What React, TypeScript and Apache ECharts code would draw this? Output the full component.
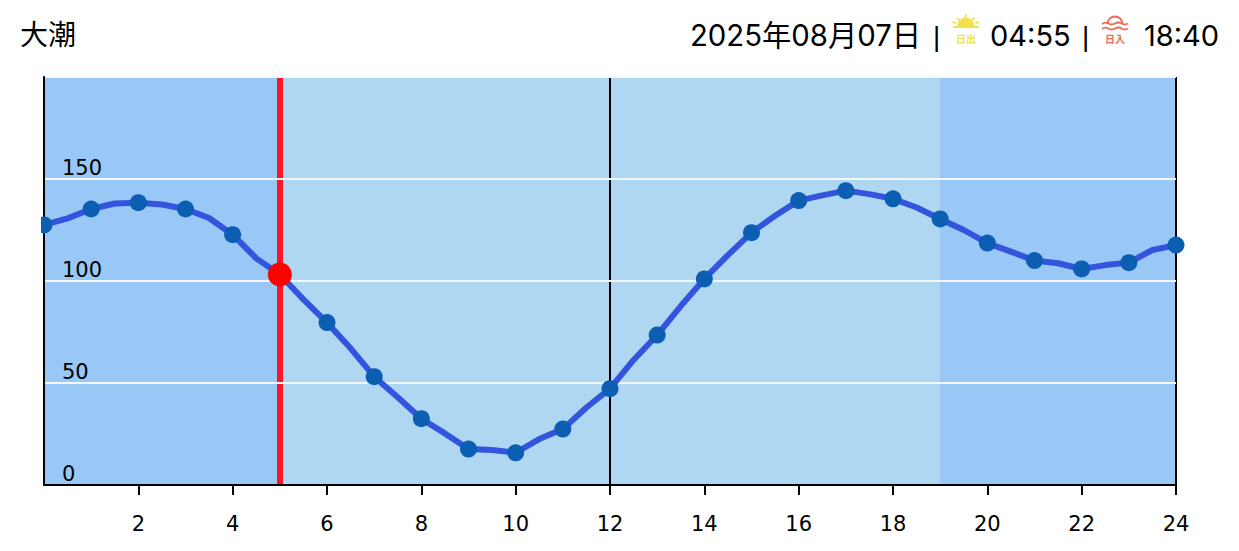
import React, { useEffect, useRef } from "react";
import * as echarts from "echarts";

const hours = [0,0.5,1,1.5,2,2.5,3,3.5,4,4.5,5,5.5,6,6.5,7,7.5,8,8.5,9,9.5,10,10.5,11,11.5,12,12.5,13,13.5,14,14.5,15,15.5,16,16.5,17,17.5,18,18.5,19,19.5,20,20.5,21,21.5,22,22.5,23,23.5,24];
const tide = [127.5,130.7,135.3,138,138.4,137.5,135.3,130.9,122.7,111.1,103.2,91,79.6,67,53.1,43,32.5,25.3,17.6,17.2,15.8,22.5,27.4,38,47.2,61.3,73.5,87.7,101,112.7,123.7,132,139.4,142,144.3,142.6,140.3,136,130.4,125,118.6,114.4,110,108.7,105.9,107.8,109,115.2,117.6];
const xTicks = [2,4,6,8,10,12,14,16,18,20,22,24];
const yTicks = [0,50,100,150];
const gridValues = [50,100,150,200];
const nightBands = [[0,5],[18.98,24]];
const dayBands = [[5,18.98]];
const nowPoint = [5,103.2];
const noonLines = [12,24];
const titleLeft = "大潮";
const dateText = "2025年08月07日";
const sep = "|";
const sunriseText = "04:55";
const sunsetText = "18:40";
const sunriseLabel = "日出";
const sunsetLabel = "日入";

const latin = "Inter,'Noto Sans CJK JP',sans-serif";
const sepFont = "'Liberation Sans',sans-serif";
const cjk = "'Noto Sans CJK JP',sans-serif";
const tick = "'DejaVu Sans',sans-serif";
const YEL = "#f3e04c";
const COR = "#ee6b55";

echarts.graphic.registerShape("wave", echarts.graphic.extendPath("M0,2 Q3.5,-0.5 6.5,1.5 T13,1.5 T19.5,1.5 T26,1.5", {}));

export default function App() {
  const ref = useRef<HTMLDivElement>(null);
  useEffect(() => {
    const chart = echarts.init(ref.current!, null, { renderer: "svg" });
    const line = (x1:number,y1:number,x2:number,y2:number,stroke:string,lineWidth=2) => ({ type:"line", z:20, shape:{x1,y1,x2,y2}, style:{stroke,lineWidth,lineCap:"round"} });
    const text = (x:number,y:number,t:string,size:number,font:string,fill="#000",align="left",weight="normal") => ({ type:"text", z:20, x, y, style:{ text:t, fontSize:size, fontFamily:font, fontWeight:weight, fill, align, verticalAlign:"middle" } });
    chart.setOption({
      animation: false,
      grid: { left: 44, right: 63, top: 77, bottom: 66 },
      xAxis: {
        type: "value", min: 0, max: 24, interval: 2, z: 2,
        axisLine: { show: true, lineStyle: { color: "#000", width: 2 } },
        axisTick: { show: true, length: 10, lineStyle: { color: "#000", width: 2 }, customValues: xTicks },
        axisLabel: { color: "#000", fontSize: 21, fontFamily: tick, margin: 28, customValues: xTicks },
        splitLine: { show: false },
      },
      yAxis: {
        type: "value", min: 0, max: 200, interval: 50, z: 2,
        axisLine: { show: true, onZero: false, lineStyle: { color: "#000", width: 2 } },
        axisTick: { show: false },
        axisLabel: { inside: true, color: "#000", fontSize: 21, fontFamily: tick, margin: 18, verticalAlign: "bottom", lineHeight: 22, customValues: yTicks },
        splitLine: { show: false },
      },
      series: [
        {
          type: "line", data: [], z: 1, silent: true,
          markArea: {
            silent: true, z: 1,
            data: [
              ...nightBands.map(([a,b]) => [{ xAxis:a, itemStyle:{ color:"#99c8f7" } }, { xAxis:b }]),
              ...dayBands.map(([a,b]) => [{ xAxis:a, itemStyle:{ color:"#b0d7f1" } }, { xAxis:b }]),
            ],
          },
        },
        {
          type: "line", data: [], z: 1, silent: true,
          markLine: {
            silent: true, z: 1, symbol: "none", label: { show: false },
            data: [
              ...noonLines.map((v) => ({ xAxis: v, lineStyle: { color: "#000", width: 2, type: "solid" } })),
              { xAxis: nowPoint[0], lineStyle: { color: "#ff1528", width: 6, type: "solid" } },
            ],
          },
        },
        {
          type: "line", data: [], z: 2, silent: true,
          markLine: {
            silent: true, z: 2, symbol: "none", label: { show: false },
            data: gridValues.map((v) => ({ yAxis: v, lineStyle: { color: "#f4f7fa", width: 2, type: "solid" } })),
          },
        },
        {
          type: "line", z: 3, clip: false, showSymbol: true, showAllSymbol: true,
          data: hours.map((h, i) => [h, tide[i]]),
          symbol: "circle",
          symbolSize: (v: number[]) => (Number.isInteger(v[0]) ? 17 : 0),
          itemStyle: { color: "#0b5eb2" },
          lineStyle: { color: "#3355dd", width: 6, join: "round", cap: "round" },
        },
        {
          type: "scatter", z: 4, clip: false, symbol: "circle", symbolSize: 24,
          data: [nowPoint], itemStyle: { color: "#ff0000", opacity: 1 },
        },
      ],
      graphic: [
        { type: "rect", z: 19, shape: { x: 0, y: 205, width: 41, height: 40 }, style: { fill: "#fff" } },
        text(20, 33, titleLeft, 28, cjk),
        text(690, 35, dateText, 29.3, latin),
        text(933, 36, sep, 28, sepFont),
        // sunrise icon
        { type:"sector", z:20, shape:{ cx:965.7, cy:26, r:8.5, r0:0, startAngle:Math.PI, endAngle:0, clockwise:true }, style:{ fill:YEL } },
        line(954,27,978,27,YEL,2.2),
        line(965.7,15,965.7,18,YEL,2),
        line(957.5,18,959.5,20.5,YEL,1.8),
        line(974,18,972,20.5,YEL,1.8),
        line(953,22,955.5,23,YEL,1.6),
        line(978.5,22,976,23,YEL,1.6),
        text(966, 38.5, sunriseLabel, 10, cjk, YEL, "center", "bold"),
        text(990, 35, sunriseText, 29, latin),
        text(1082, 36, sep, 28, sepFont),
        // sunset icon
        { type:"arc", z:20, shape:{ cx:1115, cy:24, r:7.5, startAngle:Math.PI, endAngle:0, clockwise:true }, style:{ stroke:COR, lineWidth:1.8, fill:"none" } },
        { type:"wave", z:20, x:1102, y:22, style:{ stroke:COR, lineWidth:1.8, fill:"none" } },
        { type:"wave", z:20, x:1102, y:27, style:{ stroke:COR, lineWidth:1.8, fill:"none" } },
        text(1115, 38.5, sunsetLabel, 10, cjk, COR, "center", "bold"),
        text(1144, 35, sunsetText, 29, latin),
      ],
    });
    return () => chart.dispose();
  }, []);
  return <div ref={ref} style={{ position: "absolute", left: 0, top: 0, width: 1239, height: 551 }} />;
}
